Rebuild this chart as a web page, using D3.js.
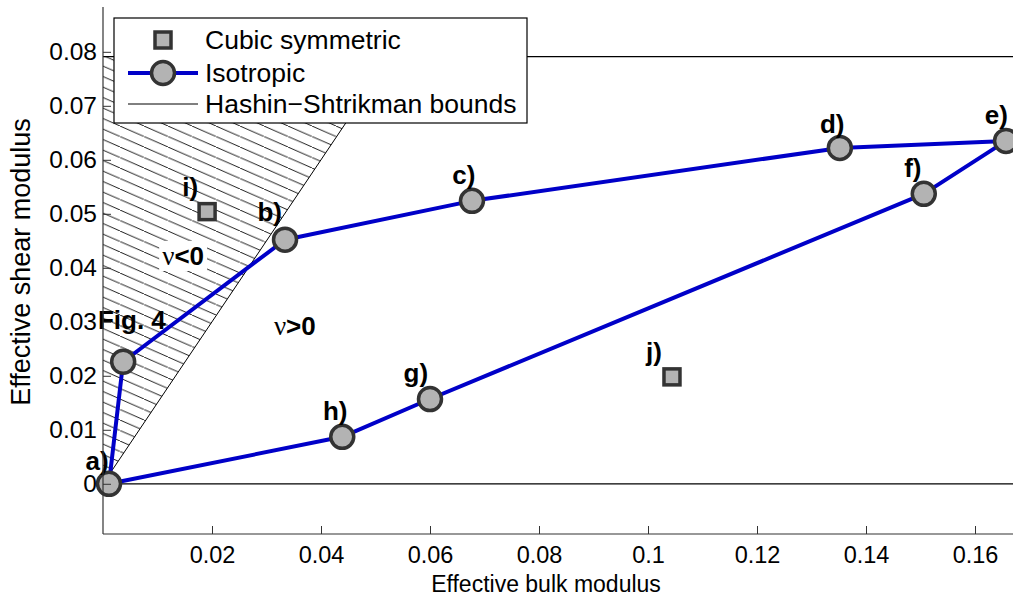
<!DOCTYPE html>
<html><head><meta charset="utf-8">
<script src="https://cdn.jsdelivr.net/npm/d3@7"></script>
<style>
body{margin:0;background:#fff;overflow:hidden}
text{font-family:"Liberation Sans",Arial,Helvetica,sans-serif}
</style>
</head><body>
<svg id="c" width="1013" height="599"></svg>
<script>
// ---------- data ----------
const isoLabels = ["a)", "Fig. 4", "b)", "c)", "d)", "e)", "f)", "g)", "h)"];
const isoK = [0.0011, 0.0037, 0.0334, 0.0677, 0.1352, 0.1657, 0.1506, 0.0600, 0.0439];
const isoG = [0.0000, 0.0226, 0.0452, 0.0524, 0.0622, 0.0635, 0.0537, 0.0157, 0.0087];
const isoLabelK = [-0.0011, 0.0053, 0.0306, 0.0662, 0.1338, 0.1639, 0.1486, 0.0574, 0.0426];
const isoLabelG = [0.0043, 0.0304, 0.0504, 0.0572, 0.0667, 0.0683, 0.0585, 0.0206, 0.0135];

const cubLabels = ["i)", "j)"];
const cubK = [0.0191, 0.1044];
const cubG = [0.0504, 0.0198];
const cubLabelK = [0.0160, 0.1011];
const cubLabelG = [0.0550, 0.0244];

const hsUpperG = 0.0791;   // Hashin-Shtrikman upper bound
const hsLowerG = 0.0;      // lower bound
const nuZeroRatio = 1.5;   // G = 1.5 K  (Poisson ratio = 0)

const regionLabels = ["<0", ">0"];
const regionK = [0.0147, 0.0352];
const regionG = [0.0422, 0.0293];

const xTicks = [0.02, 0.04, 0.06, 0.08, 0.1, 0.12, 0.14, 0.16];
const yTicks = [0, 0.01, 0.02, 0.03, 0.04, 0.05, 0.06, 0.07, 0.08];
const legendItems = ["Cubic symmetric", "Isotropic", "Hashin\u2212Shtrikman bounds"];

// ---------- layout ----------
const svg = d3.select("#c");
const x = d3.scaleLinear().domain([0, 0.17]).range([103, 103 + 0.17 * 5450]);
const y = d3.scaleLinear().domain([-0.0093, 0.0883]).range([534, 7]);
const xMax = x.domain()[1];

const blue = "#0000c8", markFill = "#b3b3b3", markStroke = "#333";

// hatch pattern
const defs = svg.append("defs");
const pat = defs.append("pattern").attr("id", "hatch").attr("patternUnits", "userSpaceOnUse")
  .attr("width", 24).attr("height", 10.5);
pat.append("line").attr("x1", 0).attr("y1", 0).attr("x2", 24).attr("y2", 10.5)
  .attr("stroke", "#000").attr("stroke-width", 0.9);

const tri = [[0, 0], [0, hsUpperG], [hsUpperG / nuZeroRatio, hsUpperG]];
svg.append("path")
  .attr("d", d3.line().x(d => x(d[0])).y(d => y(d[1]))(tri) + "Z")
  .attr("fill", "url(#hatch)").attr("stroke", "none");
// nu = 0 boundary
svg.append("line")
  .attr("x1", x(0)).attr("y1", y(0))
  .attr("x2", x(hsUpperG / nuZeroRatio)).attr("y2", y(hsUpperG))
  .attr("stroke", "#000").attr("stroke-width", 1);

// HS bounds
[hsUpperG, hsLowerG].forEach(g => {
  svg.append("line").attr("x1", x(0)).attr("x2", x(xMax))
    .attr("y1", y(g)).attr("y2", y(g)).attr("stroke", "#000").attr("stroke-width", 1.2);
});

// region labels (nu<0 with white background)
regionLabels.forEach((t, i) => {
  const g = svg.append("g").attr("transform", `translate(${x(regionK[i])},${y(regionG[i])})`);
  const txt = g.append("text").attr("text-anchor", "middle").attr("dy", "0.35em")
    .attr("font-size", 26);
  txt.append("tspan").attr("font-family", "Liberation Serif, serif").attr("font-size", 27).text("\u03bd");
  txt.append("tspan").attr("font-weight", "bold").text(t);
  if (i === 0) {
    const bb = txt.node().getBBox();
    g.insert("rect", "text").attr("x", bb.x - 3).attr("y", bb.y).attr("width", bb.width + 6)
      .attr("height", bb.height).attr("fill", "#fff");
  }
});

// isotropic line
const isoPts = isoK.map((k, i) => [k, isoG[i]]);
svg.append("path")
  .attr("d", d3.line().x(d => x(d[0])).y(d => y(d[1]))(isoPts.concat([isoPts[0]])))
  .attr("fill", "none").attr("stroke", blue).attr("stroke-width", 4).attr("stroke-linejoin", "round");
svg.selectAll("circle.iso").data(isoPts).enter().append("circle").attr("class", "iso")
  .attr("cx", d => x(d[0])).attr("cy", d => y(d[1])).attr("r", 11.5)
  .attr("fill", markFill).attr("stroke", markStroke).attr("stroke-width", 3.5);

// cubic squares
svg.selectAll("rect.cub").data(cubK).enter().append("rect").attr("class", "cub")
  .attr("x", (d, i) => x(d) - 8).attr("y", (d, i) => y(cubG[i]) - 8)
  .attr("width", 16).attr("height", 16)
  .attr("fill", markFill).attr("stroke", markStroke).attr("stroke-width", 3.5);

// point labels
const allLabels = isoLabels.map((t, i) => [t, isoLabelK[i], isoLabelG[i]])
  .concat(cubLabels.map((t, i) => [t, cubLabelK[i], cubLabelG[i]]));
svg.selectAll("text.pl").data(allLabels).enter().append("text").attr("class", "pl")
  .attr("x", d => x(d[1])).attr("y", d => y(d[2])).attr("dy", "0.35em")
  .attr("text-anchor", "middle").attr("font-weight", "bold").attr("font-size", 26)
  .text(d => d[0]);

// axes
const axCol = "#333";
svg.append("line").attr("x1", x(0)).attr("x2", x(xMax)).attr("y1", y.range()[0]).attr("y2", y.range()[0])
  .attr("stroke", axCol).attr("stroke-width", 1.2);
svg.append("line").attr("x1", x(0)).attr("x2", x(0)).attr("y1", y.range()[0]).attr("y2", y.range()[1])
  .attr("stroke", axCol).attr("stroke-width", 1.2);

const xa = svg.append("g").attr("transform", `translate(0,${y.range()[0]})`)
  .call(d3.axisBottom(x).tickValues(xTicks).tickSizeInner(-8).tickSizeOuter(0).tickPadding(12)
    .tickFormat(d3.format("~g")));
xa.select(".domain").remove();
xa.selectAll("line").attr("stroke", axCol);
xa.selectAll("text").attr("font-size", 23.5).attr("fill", "#000")
  .attr("font-family", "Liberation Sans, Arial, sans-serif");

const ya = svg.append("g").attr("transform", `translate(${x(0)},0)`)
  .call(d3.axisLeft(y).tickValues(yTicks).tickSizeInner(-8).tickSizeOuter(0).tickPadding(6)
    .tickFormat(d3.format("~g")));
ya.select(".domain").remove();
ya.selectAll("line").attr("stroke", axCol);
ya.selectAll("text").attr("font-size", 24.5).attr("fill", "#000")
  .attr("font-family", "Liberation Sans, Arial, sans-serif");

svg.append("text").attr("x", 546).attr("y", 592).attr("text-anchor", "middle")
  .attr("font-size", 23).text("Effective bulk modulus");
svg.append("text").attr("transform", "translate(30,262) rotate(-90)").attr("text-anchor", "middle")
  .attr("font-size", 27).text("Effective shear modulus");

// legend
const lg = svg.append("g").attr("transform", "translate(114,18)");
lg.append("rect").attr("width", 413).attr("height", 105).attr("fill", "#fff")
  .attr("stroke", "#000").attr("stroke-width", 1.2);
const rowY = [22, 55, 86];
lg.append("rect").attr("x", 41).attr("y", rowY[0] - 8).attr("width", 16).attr("height", 16)
  .attr("fill", markFill).attr("stroke", markStroke).attr("stroke-width", 3.5);
lg.append("line").attr("x1", 14).attr("x2", 84).attr("y1", rowY[1]).attr("y2", rowY[1])
  .attr("stroke", blue).attr("stroke-width", 4);
lg.append("circle").attr("cx", 49).attr("cy", rowY[1]).attr("r", 11.5)
  .attr("fill", markFill).attr("stroke", markStroke).attr("stroke-width", 3.5);
lg.append("line").attr("x1", 14).attr("x2", 84).attr("y1", rowY[2]).attr("y2", rowY[2])
  .attr("stroke", "#000").attr("stroke-width", 1);
lg.selectAll("text.lt").data(legendItems).enter().append("text").attr("class", "lt")
  .attr("x", 91).attr("y", (d, i) => rowY[i]).attr("dy", "0.35em")
  .attr("font-size", 26.5).text(d => d);
</script>
</body></html>
